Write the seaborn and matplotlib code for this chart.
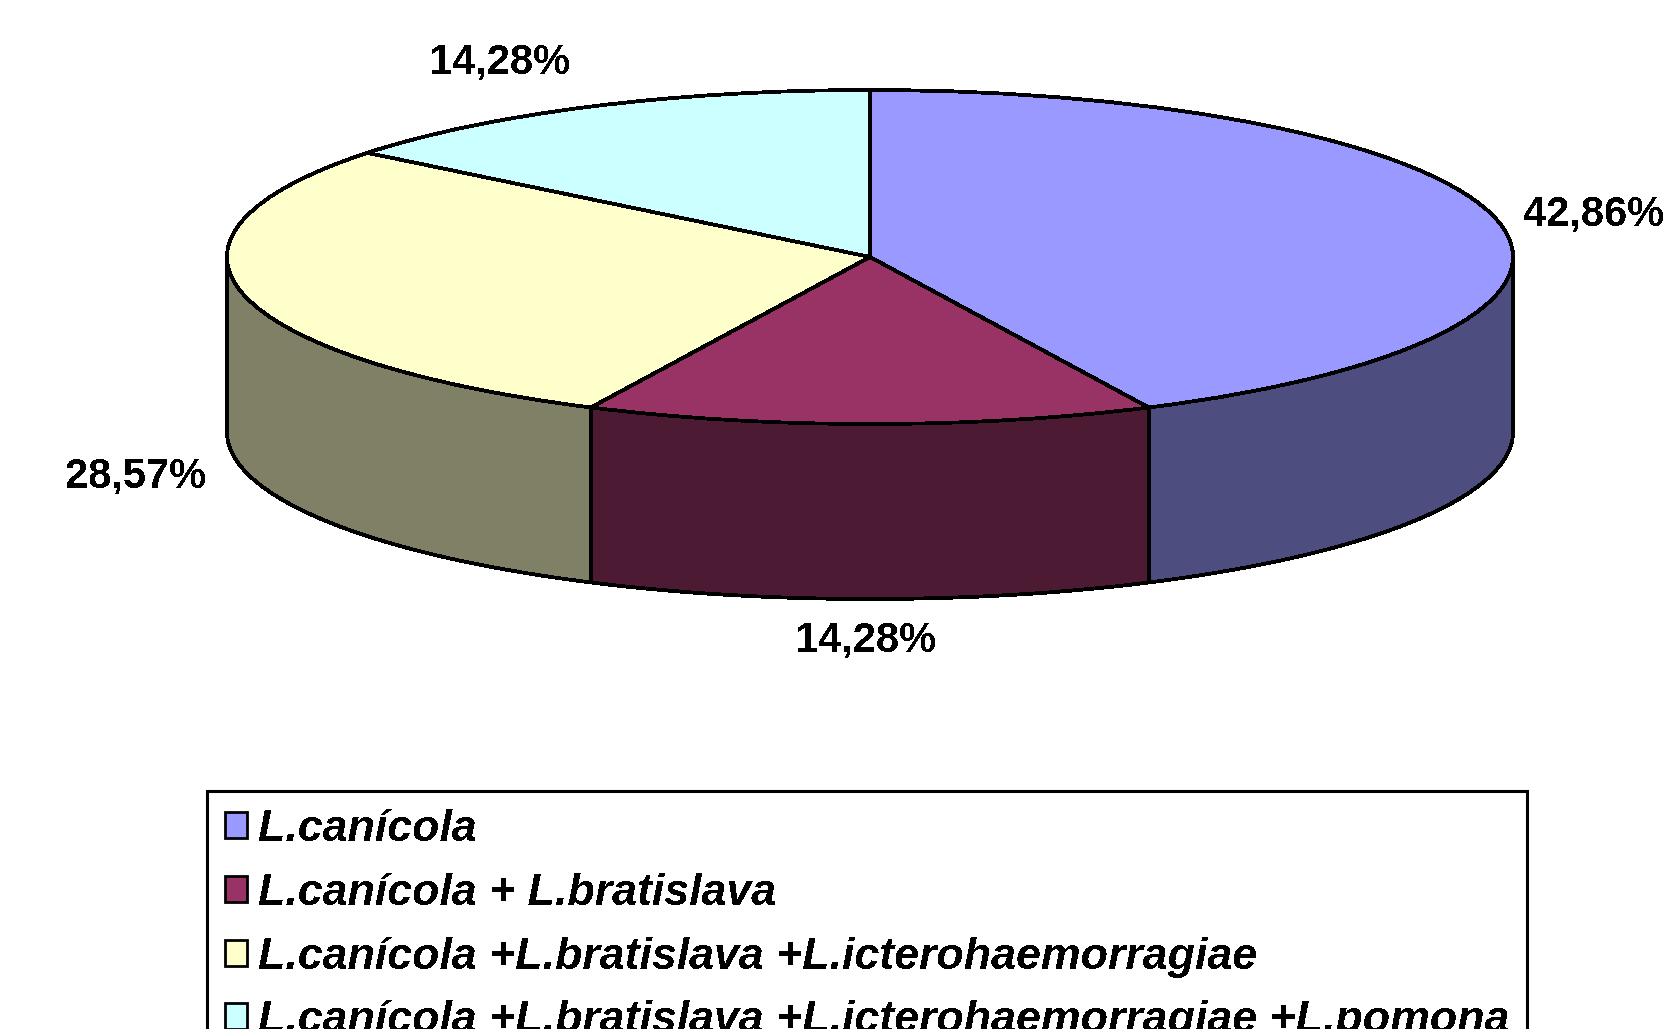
import numpy as np
import matplotlib
matplotlib.use("Agg")
import matplotlib.pyplot as plt
import seaborn as sns

# values and names
labels = ["L.canícola",
          "L.canícola + L.bratislava",
          "L.canícola +L.bratislava +L.icterohaemorragiae",
          "L.canícola +L.bratislava +L.icterohaemorragiae +L.pomona"]
values = [42.86, 14.28, 28.57, 14.28]
top_colors = ["#9999FF", "#993366", "#FFFFCC", "#CCFFFF"]
side_colors = ["#4D4D7F", "#4C1A33", "#808066", "#668080"]

W, H = 1664, 1029
cx, cy = 870, 257  # pie centre in pixels
rx, ry = 643, 167  # ellipse radii in pixels
depth = 175 / ry

sns.set_theme(style="white")
plt.rcParams["font.family"] = ["Liberation Sans", "DejaVu Sans"]
plt.rcParams["text.antialiased"] = False

fig = plt.figure(figsize=(W / 100, H / 100), dpi=100, facecolor="white")
ax = fig.add_axes([0, 0, 1, 1])

wedges, _ = ax.pie(values, colors=sns.color_palette(top_colors), startangle=90,
                   counterclock=False, radius=1,
                   wedgeprops=dict(edgecolor="black", linewidth=2.0, zorder=3, antialiased=False))

# the wall of the disc: only the front half (90 to 270 degrees clockwise from the top)
edges = np.cumsum([0] + values) / sum(values) * 360
for i, col in enumerate(side_colors):
    a0, a1 = max(edges[i], 90), min(edges[i + 1], 270)
    if a1 <= a0:
        continue
    a = np.radians(np.linspace(a0, a1, 80))
    x, y = np.sin(a), np.cos(a)
    ax.fill_between(x, y, y - depth, color=col, lw=0, zorder=1)
    ax.plot(x, y - depth, color="black", lw=2.0, zorder=2, antialiased=False)
    ax.plot([x[-1], x[-1]], [y[-1], y[-1] - depth], color="black", lw=2.6, zorder=2, antialiased=False)
    if a0 == 90:
        ax.plot([x[0], x[0]], [y[0], y[0] - depth], color="black", lw=2.6, zorder=2, antialiased=False)

ax.set_aspect("auto")
ax.set_xlim(-cx / rx, (W - cx) / rx)
ax.set_ylim((cy - H) / ry, cy / ry)
ax.axis("off")

# percent labels, decimal comma
label_pos = [(1594, 214), (866, 641), (136, 477), (500, 63)]
for v, (px, py) in zip(values, label_pos):
    fig.text(px / W, 1 - py / H, f"{v:.2f}%".replace(".", ","), ha="center", va="center",
             fontsize=30, fontweight="bold", color="black")

leg = ax.legend(wedges, labels, loc="upper left",
                bbox_to_anchor=(207 / W, 1 - 791 / H), bbox_transform=fig.transFigure,
                prop=dict(family="Liberation Sans", weight="bold", style="italic", size=32.2),
                labelcolor="black",
                frameon=True, fancybox=False, framealpha=1, edgecolor="black",
                borderpad=0.40, borderaxespad=0, labelspacing=0.51,
                handlelength=0.49, handleheight=0.52, handletextpad=0.25)
leg.get_frame().set_linewidth(2.2)
for h in leg.get_patches():
    h.set_linewidth(2.0)

fig.savefig("out.png", dpi=100)
